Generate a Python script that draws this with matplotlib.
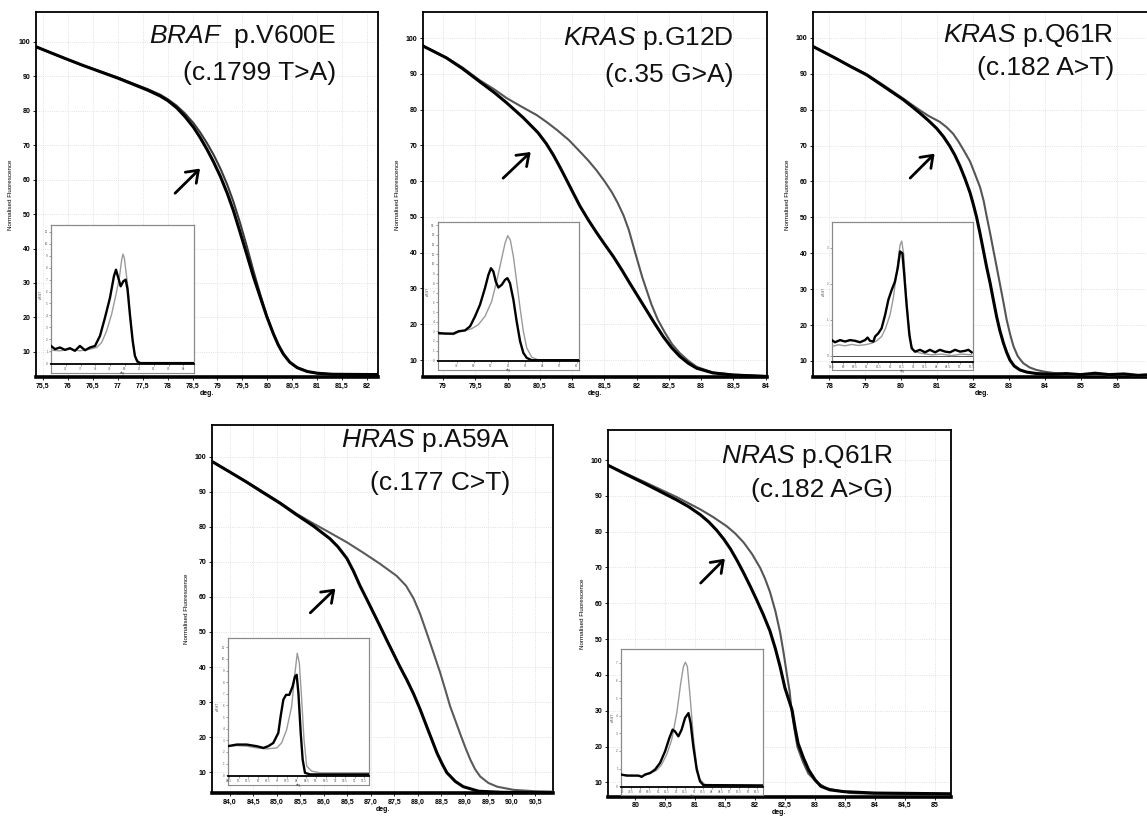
import matplotlib
matplotlib.use("Agg")
import matplotlib.pyplot as plt
from matplotlib.patches import FancyArrowPatch
import numpy as np

plt.rcParams['font.family'] = ['Liberation Sans', 'DejaVu Sans']
plt.rcParams['mathtext.fontset'] = 'custom'
plt.rcParams['mathtext.it'] = 'Liberation Sans:italic'
plt.rcParams['mathtext.rm'] = 'Liberation Sans'

W, H = 1147, 817

# ---------------- data: main melting curves ----------------
# Panel 1: BRAF p.V600E
braf_x_black = [75.36, 75.6, 75.98, 76.3, 76.64, 77.0, 77.31, 77.6, 77.85, 78.0, 78.18, 78.35, 78.52,
                78.65, 78.79, 78.92, 79.06, 79.2, 79.32, 79.45, 79.59, 79.72, 79.86, 79.99, 80.12,
                80.22, 80.32, 80.45, 80.6, 80.8, 81.0, 81.3, 82.22]
braf_y_black = [98.6, 97.2, 95.0, 93.2, 91.4, 89.5, 87.7, 86.0, 84.3, 83.0, 80.9, 78.3, 75.2,
                72.3, 68.8, 65.2, 60.9, 55.9, 51.0, 44.9, 38.2, 31.9, 25.8, 20.2, 15.3,
                12.0, 9.4, 7.0, 5.4, 4.3, 3.8, 3.5, 3.4]
braf_x_grey = [75.36, 75.6, 75.98, 76.3, 76.64, 77.0, 77.31, 77.6, 77.85, 78.0, 78.18, 78.35, 78.52,
               78.65, 78.79, 78.92, 79.06, 79.2, 79.32, 79.45, 79.59, 79.72, 79.86, 79.99, 80.12,
               80.22, 80.32, 80.45, 80.6, 80.8, 81.0, 81.3, 82.22]
braf_y_grey = [98.6, 97.2, 95.0, 93.2, 91.5, 89.7, 87.9, 86.3, 84.7, 83.4, 81.5, 79.2, 76.4,
               73.8, 70.6, 67.3, 63.2, 58.4, 53.6, 47.6, 40.6, 33.6, 26.6, 20.5, 15.3,
               12.0, 9.4, 7.0, 5.4, 4.3, 3.8, 3.5, 3.4]

# Panel 2: KRAS p.G12D
g12d_x_black = [78.69, 79.05, 79.3, 79.57, 79.8, 79.98, 80.24, 80.47, 80.6, 80.71, 80.81, 80.91,
                81.02, 81.12, 81.25, 81.38, 81.51, 81.64, 81.77, 81.89, 82.02, 82.15, 82.28,
                82.41, 82.54, 82.67, 82.8, 82.93, 83.18, 83.5, 84.02]
g12d_y_black = [97.8, 94.5, 91.5, 87.8, 84.7, 82.0, 77.8, 73.6, 70.5, 67.3, 64.0, 60.5,
                56.6, 53.1, 49.2, 45.6, 42.2, 38.9, 35.2, 31.6, 27.8, 24.0, 20.2,
                16.6, 13.5, 11.0, 9.1, 7.7, 6.4, 5.8, 5.4]
g12d_x_grey = [78.69, 79.05, 79.3, 79.57, 79.8, 79.98, 80.2, 80.45, 80.6, 80.76, 80.95, 81.12,
               81.25, 81.38, 81.51, 81.62, 81.71, 81.8, 81.88, 81.97, 82.09, 82.23, 82.33,
               82.44, 82.55, 82.67, 82.8, 82.93, 83.18, 83.5, 84.02]
g12d_y_grey = [97.8, 94.6, 91.8, 88.2, 85.6, 83.3, 81.0, 78.5, 76.6, 74.4, 71.5, 68.3,
               65.8, 63.0, 59.8, 56.8, 53.8, 50.3, 46.3, 40.5, 33.0, 25.5, 21.2,
               17.6, 14.4, 11.9, 9.8, 8.1, 6.5, 5.9, 5.5]

# Panel 3: KRAS p.Q61R
q61r_x_black = [77.55, 77.8, 78.2, 78.6, 79.04, 79.5, 80.06, 80.3, 80.53, 80.76, 80.99, 81.18,
                81.36, 81.5, 81.64, 81.78, 81.92, 82.01, 82.1, 82.2, 82.29, 82.38, 82.48, 82.57,
                82.66, 82.75, 82.85, 82.94, 83.03, 83.15, 83.31, 83.5, 83.77, 84.2, 84.6, 85.0,
                85.4, 85.8, 86.2, 86.6, 86.93]
q61r_y_black = [97.6, 96.3, 94.2, 92.0, 89.7, 86.6, 82.8, 80.9, 79.0, 77.0, 74.8, 72.5,
                69.8, 67.3, 64.3, 60.8, 56.9, 53.7, 50.2, 45.5, 40.9, 36.3, 31.7, 27.0,
                22.4, 18.5, 15.0, 12.4, 10.3, 8.6, 7.5, 6.9, 6.5, 6.3, 6.5, 6.2,
                6.6, 6.2, 6.4, 6.0, 6.2]
q61r_x_grey = [77.55, 77.8, 78.2, 78.6, 79.04, 79.5, 80.06, 80.3, 80.53, 80.76, 81.08, 81.27,
               81.45, 81.6, 81.75, 81.92, 82.05, 82.2, 82.3, 82.38, 82.48, 82.57, 82.66, 82.75,
               82.85, 82.94, 83.04, 83.13, 83.25, 83.4, 83.58, 83.77, 84.0, 84.3, 84.6, 85.0,
               85.4, 85.8, 86.2, 86.6, 86.93]
q61r_y_grey = [97.6, 96.3, 94.2, 92.1, 89.9, 86.9, 83.1, 81.4, 79.8, 78.3, 76.6, 75.1,
               73.3, 71.1, 68.6, 65.6, 62.3, 58.4, 54.6, 50.5, 45.6, 40.9, 36.3, 31.6,
               26.4, 21.5, 17.3, 14.1, 11.3, 9.4, 8.2, 7.5, 7.0, 6.6, 6.4, 6.1,
               6.3, 6.0, 6.2, 5.9, 6.0]

# Panel 4: HRAS p.A59A
a59a_x_black = [83.62, 84.0, 84.36, 84.7, 85.07, 85.4, 85.78, 86.13, 86.3, 86.49, 86.63, 86.77,
                86.92, 87.06, 87.2, 87.34, 87.48, 87.62, 87.77, 87.91, 88.05, 88.19, 88.3,
                88.41, 88.52, 88.62, 88.8, 88.97, 89.3, 89.8, 90.88]
a59a_y_black = [98.6, 95.6, 92.7, 89.8, 86.7, 83.6, 80.2, 76.6, 74.3, 71.0, 67.4, 63.2,
                59.2, 55.4, 51.6, 47.7, 43.9, 40.1, 36.3, 32.4, 28.0, 23.1, 19.3,
                15.5, 12.4, 9.9, 7.4, 5.9, 4.6, 4.3, 4.2]
a59a_x_grey = [83.62, 84.0, 84.36, 84.7, 85.07, 85.42, 85.78, 86.13, 86.5, 86.84, 87.2, 87.55, 87.75,
               87.91, 88.05, 88.19, 88.34, 88.48, 88.59, 88.69, 88.8, 88.9, 89.01, 89.12, 89.22,
               89.33, 89.5, 89.69, 90.04, 90.5, 90.88]
a59a_y_grey = [98.6, 95.6, 92.8, 90.0, 86.9, 83.7, 80.9, 78.3, 75.5, 72.6, 69.4, 66.0, 63.2,
               59.6, 55.2, 49.8, 43.9, 38.3, 33.4, 28.8, 24.8, 21.1, 17.2, 13.6, 10.9,
               8.8, 7.0, 5.9, 5.0, 4.6, 4.5]

# Panel 5: NRAS p.Q61R
nras_x_black = [79.54, 79.8, 80.14, 80.42, 80.7, 80.9, 81.09, 81.23, 81.36, 81.48, 81.59, 81.7,
                81.81, 81.92, 82.03, 82.14, 82.25, 82.34, 82.42, 82.5, 82.62, 82.67, 82.72,
                82.81, 82.9, 83.0, 83.1, 83.25, 83.48, 84.0, 85.27]
nras_y_black = [98.6, 96.4, 93.6, 91.2, 88.8, 86.9, 84.7, 82.7, 80.4, 77.9, 75.2, 72.0,
                68.5, 64.8, 60.9, 56.8, 52.3, 47.4, 42.3, 36.4, 30.2, 25.2, 20.9,
                16.8, 13.4, 10.8, 8.9, 7.9, 7.4, 7.0, 6.8]
nras_x_grey = [79.54, 79.8, 80.14, 80.42, 80.7, 81.09, 81.3, 81.53, 81.67, 81.81, 81.95, 82.09,
               82.17, 82.25, 82.34, 82.42, 82.48, 82.53, 82.58, 82.61, 82.66, 82.71, 82.8,
               82.89, 83.03, 83.2, 83.6, 84.0, 85.27]
nras_y_grey = [98.6, 96.6, 94.0, 91.8, 89.6, 86.2, 84.1, 81.5, 79.5, 77.0, 73.8, 69.8,
               66.8, 63.2, 57.9, 51.9, 46.0, 40.5, 35.3, 30.2, 24.8, 19.9, 15.8,
               12.5, 10.0, 8.3, 7.0, 6.8, 6.7]

# ---------------- data: inset derivative curves (-dF/dT) ----------------
i1_x_black = [74.98, 75.25, 75.59, 75.93, 76.27, 76.61, 76.95, 77.30, 77.64, 77.98, 78.32, 78.66,
              79.00, 79.27, 79.41, 79.57, 79.73, 79.91, 80.07, 80.20, 80.36, 80.55, 80.70, 80.86,
              81.05, 84.73]
i1_y_black = [1.44, 1.17, 1.31, 1.11, 1.25, 1.03, 1.44, 1.08, 1.31, 1.44, 2.28, 3.81,
              5.47, 7.28, 7.83, 7.14, 6.44, 6.86, 7.00, 6.17, 4.08, 1.86, 0.61, 0.14,
              0.0, 0.0]
i1_x_grey = [74.98, 75.59, 76.27, 76.95, 77.64, 78.09, 78.43, 78.77, 79.11, 79.41, 79.64, 79.80,
             79.89, 79.98, 80.09, 80.23, 80.36, 80.55, 80.70, 80.93, 81.16, 84.73]
i1_y_grey = [1.08, 1.03, 1.17, 1.03, 1.17, 1.31, 1.72, 2.69, 4.08, 5.75, 7.14, 8.67,
             9.14, 8.81, 7.69, 6.31, 4.08, 1.86, 0.61, 0.14, 0.0, 0.0]

i2_x_black = [77.89, 78.32, 78.81, 79.10, 79.49, 79.78, 80.07, 80.36, 80.65, 80.85, 81.00, 81.14,
              81.28, 81.43, 81.63, 81.82, 81.96, 82.11, 82.31, 82.50, 82.70, 82.89, 83.09, 83.38,
              86.14]
i2_y_black = [2.83, 2.76, 2.76, 3.00, 3.10, 3.52, 4.55, 5.76, 7.48, 8.86, 9.55, 9.21,
              8.17, 7.55, 7.83, 8.34, 8.52, 8.00, 6.28, 4.03, 1.97, 0.76, 0.24, 0.0,
              0.0]
i2_x_grey = [77.89, 78.32, 78.81, 79.10, 79.49, 79.88, 80.26, 80.65, 81.04, 81.33, 81.63, 81.82,
             81.98, 82.13, 82.31, 82.50, 82.70, 82.89, 83.09, 83.38, 83.77, 86.14]
i2_y_grey = [2.66, 2.83, 2.66, 2.93, 3.07, 3.28, 3.69, 4.55, 6.10, 8.17, 10.59, 12.14,
             12.93, 12.48, 10.76, 8.17, 5.41, 3.00, 1.28, 0.31, 0.03, 0.0]

i3_x_black = [79.5, 79.64, 79.86, 80.07, 80.29, 80.5, 80.71, 80.93, 81.04, 81.14, 81.29, 81.36,
              81.5, 81.64, 81.79, 81.93, 82.07, 82.21, 82.33, 82.43, 82.53, 82.61, 82.71, 82.83,
              82.93, 83.07, 83.29, 83.5, 83.71, 83.93, 84.14, 84.36, 84.57, 84.79, 85.0, 85.21,
              85.36, 85.5]
i3_y_black = [0.44, 0.38, 0.44, 0.40, 0.44, 0.42, 0.38, 0.44, 0.51, 0.42, 0.40, 0.54,
              0.63, 0.77, 1.14, 1.56, 1.83, 2.06, 2.44, 2.90, 2.85, 2.25, 1.42, 0.58,
              0.21, 0.12, 0.17, 0.10, 0.17, 0.10, 0.17, 0.12, 0.10, 0.17, 0.12, 0.14,
              0.17, 0.10]
i3_x_grey = [79.5, 79.79, 80.07, 80.36, 80.64, 80.93, 81.21, 81.43, 81.64, 81.81, 82.0, 82.14,
             82.29, 82.43, 82.5, 82.59, 82.67, 82.79, 82.9, 83.04, 83.36, 83.79, 84.21, 84.64,
             85.07, 85.5]
i3_y_grey = [0.26, 0.31, 0.28, 0.32, 0.29, 0.31, 0.35, 0.42, 0.54, 0.77, 1.14, 1.60,
             2.34, 3.08, 3.19, 2.81, 1.88, 0.95, 0.31, 0.12, 0.07, 0.03, 0.05, 0.01,
             0.05, 0.03]

i4_x_black = [84.43, 84.9, 85.41, 85.93, 86.28, 86.53, 86.79, 87.05, 87.17, 87.31, 87.45, 87.62,
              87.79, 87.91, 88.0, 88.09, 88.21, 88.31, 88.43, 88.69, 91.76]
i4_y_black = [2.49, 2.63, 2.63, 2.49, 2.34, 2.49, 2.77, 3.63, 5.06, 6.49, 6.91, 6.91,
              7.63, 8.49, 8.63, 7.06, 3.63, 1.34, 0.20, 0.06, 0.06]
i4_x_grey = [84.43, 84.9, 85.41, 85.93, 86.45, 86.97, 87.22, 87.48, 87.74, 87.91, 88.03, 88.14,
             88.26, 88.38, 88.52, 88.78, 89.21, 91.76]
i4_y_grey = [2.49, 2.54, 2.49, 2.34, 2.26, 2.34, 2.77, 3.91, 5.91, 8.77, 10.49, 9.63,
             6.49, 3.06, 0.77, 0.34, 0.20, 0.20]

i5_x_black = [78.94, 79.26, 79.63, 79.91, 80.09, 80.28, 80.56, 80.83, 81.11, 81.39, 81.63, 81.81,
              81.94, 82.13, 82.31, 82.5, 82.69, 82.81, 82.96, 83.15, 83.33, 83.52, 86.85]
i5_y_black = [0.66, 0.60, 0.60, 0.60, 0.53, 0.66, 0.75, 0.94, 1.32, 1.98, 2.74, 3.21,
              3.11, 2.83, 3.21, 3.87, 4.15, 3.58, 2.26, 0.94, 0.28, 0.06, 0.04]
i5_x_grey = [78.94, 79.63, 80.09, 80.56, 80.93, 81.2, 81.48, 81.76, 82.04, 82.26, 82.41, 82.52,
             82.63, 82.78, 82.96, 83.15, 83.33, 83.61, 86.85]
i5_y_grey = [0.66, 0.60, 0.57, 0.72, 0.91, 1.23, 1.79, 2.64, 4.15, 5.85, 6.79, 7.04,
             6.79, 5.09, 2.83, 1.13, 0.38, 0.09, 0.04]

# ---------------- labels ----------------
genes = ['BRAF', 'KRAS', 'KRAS', 'HRAS', 'NRAS']
protein = ['  p.V600E', ' p.G12D', ' p.Q61R', ' p.A59A', ' p.Q61R']
cdna = ['(c.1799 T>A)', '(c.35 G>A)', '(c.182 A>T)', '(c.177 C>T)', '(c.182 A>G)']
y_ticks = [10, 20, 30, 40, 50, 60, 70, 80, 90, 100]
x_ticks_1 = [75.5, 76, 76.5, 77, 77.5, 78, 78.5, 79, 79.5, 80, 80.5, 81, 81.5, 82]
x_ticks_2 = [79, 79.5, 80, 80.5, 81, 81.5, 82, 82.5, 83, 83.5, 84]
x_ticks_3 = [78, 79, 80, 81, 82, 83, 84, 85, 86]
x_ticks_4 = [84.0, 84.5, 85.0, 85.5, 86.0, 86.5, 87.0, 87.5, 88.0, 88.5, 89.0, 89.5, 90.0, 90.5]
x_ticks_5 = [80, 80.5, 81, 81.5, 82, 82.5, 83, 83.5, 84, 84.5, 85]

# ---------------- layout (pixels) ----------------
def fpos(l, r, t, b):
    return [l / W, 1 - b / H, (r - l) / W, (b - t) / H]

panels = [
    dict(pos=(36, 378, 12, 377), xlim=(75.36, 82.22), ylim=(2.7, 108.7), xt=x_ticks_1, keep0=False,
         bx=braf_x_black, by=braf_y_black, gx=braf_x_grey, gy=braf_y_grey, grey='#3a3a3a',
         arrow=((78.11, 55.5), (78.69, 63.8)), tx=0.877, ty1=0.915, ty2=0.814,
         inset=(51, 194, 225, 363.7, 373), ixl=(74.98, 84.73), iyl=(-0.05, 11.58),
         ixt=list(range(76, 85)), iyt=list(range(0, 12)),
         ibx=i1_x_black, iby=i1_y_black, igx=i1_x_grey, igy=i1_y_grey, zero=False),
    dict(pos=(423, 767, 12, 377), xlim=(78.69, 84.02), ylim=(5.25, 107.3), xt=x_ticks_2, keep0=False,
         bx=g12d_x_black, by=g12d_y_black, gx=g12d_x_grey, gy=g12d_y_grey, grey='#555555',
         arrow=((79.9, 60.3), (80.39, 68.7)), tx=0.904, ty1=0.910, ty2=0.808,
         inset=(437.7, 579, 221.7, 360.7, 370), ixl=(77.89, 86.14), iyl=(-0.05, 14.38),
         ixt=list(range(79, 87)), iyt=list(range(0, 15)),
         ibx=i2_x_black, iby=i2_y_black, igx=i2_x_grey, igy=i2_y_grey, zero=False),
    dict(pos=(813, 1150, 12, 377), xlim=(77.55, 86.93), ylim=(5.54, 107.2), xt=x_ticks_3, keep0=False,
         bx=q61r_x_black, by=q61r_y_black, gx=q61r_x_grey, gy=q61r_y_grey, grey='#555555',
         arrow=((80.2, 60.4), (80.99, 68.3)), tx=0.893, ty1=0.918, ty2=0.827,
         inset=(831.7, 973.3, 222.3, 361.7, 370), ixl=(79.5, 85.57), iyl=(-0.16, 3.71),
         ixt=[79.5 + 0.5 * k for k in range(13)], iyt=[0, 1, 2, 3],
         ibx=i3_x_black, iby=i3_y_black, igx=i3_x_grey, igy=i3_y_grey, zero=True),
    dict(pos=(212, 553, 425, 793), xlim=(83.62, 90.88), ylim=(4.1, 109), xt=x_ticks_4, keep0=True,
         bx=a59a_x_black, by=a59a_y_black, gx=a59a_x_grey, gy=a59a_y_grey, grey='#5a5a5a',
         arrow=((85.67, 54.9), (86.29, 62.9)), tx=0.874, ty1=0.940, ty2=0.823,
         inset=(227.7, 369.3, 637.7, 775.7, 785), ixl=(84.43, 91.76), iyl=(-0.05, 11.83),
         ixt=[84.5 + 0.5 * k for k in range(15)], iyt=list(range(0, 12)),
         ibx=i4_x_black, iby=i4_y_black, igx=i4_x_grey, igy=i4_y_grey, zero=False),
    dict(pos=(607.7, 950.7, 430, 796.7), xlim=(79.54, 85.27), ylim=(5.98, 108.4), xt=x_ticks_5, keep0=False,
         bx=nras_x_black, by=nras_y_black, gx=nras_x_grey, gy=nras_y_grey, grey='#555555',
         arrow=((81.06, 65.1), (81.53, 73.0)), tx=0.832, ty1=0.910, ty2=0.817,
         inset=(621, 763.3, 649, 786.7, 795), ixl=(78.94, 86.85), iyl=(-0.03, 7.79),
         ixt=[79 + 0.5 * k for k in range(16)], iyt=list(range(0, 8)),
         ibx=i5_x_black, iby=i5_y_black, igx=i5_x_grey, igy=i5_y_grey, zero=False),
]

def fmt(v, keep0):
    if keep0:
        s = f"{v:.1f}"
    else:
        s = f"{v:g}"
    return s.replace('.', ',')

fig = plt.figure(figsize=(W / 100, H / 100), dpi=100)
fig.patch.set_facecolor('white')

for i, p in enumerate(panels):
    ax = fig.add_axes(fpos(*p['pos']))
    ax.plot(p['gx'], p['gy'], color=p['grey'], lw=1.5, zorder=3, solid_capstyle='round',
            solid_joinstyle='round')
    ax.plot(p['bx'], p['by'], color='black', lw=2.2, zorder=4, solid_capstyle='round',
            solid_joinstyle='round')
    ax.set_xlim(*p['xlim'])
    ax.set_ylim(*p['ylim'])
    ax.set_xticks(p['xt'])
    ax.set_xticklabels([fmt(v, p['keep0']) for v in p['xt']], fontsize=5, fontweight='bold')
    ax.set_yticks(y_ticks)
    ax.set_yticklabels([str(v) for v in y_ticks], fontsize=5, fontweight='bold')
    ax.tick_params(length=2, width=0.6, pad=2, colors='black')
    ax.grid(True, color='#d8d8d8', linestyle=':', lw=0.6)
    for s in ['left', 'top', 'right']:
        ax.spines[s].set_linewidth(1.3)
    ax.spines['bottom'].set_linewidth(2.6)
    ax.set_ylabel('Normalised Fluorescence', fontsize=4.5, labelpad=4)
    ax.set_xlabel('deg.', fontsize=5, fontweight='bold', labelpad=0)
    # title text
    ax.text(p['tx'], p['ty1'], f"$\\mathit{{{genes[i]}}}$" + protein[i], transform=ax.transAxes,
            ha='right', va='baseline', fontsize=19, color='#111111', zorder=6)
    ax.text(p['tx'], p['ty2'], cdna[i], transform=ax.transAxes,
            ha='right', va='baseline', fontsize=19, color='#111111', zorder=6)
    # arrow
    (x0, y0), (x1, y1) = p['arrow']
    arr = FancyArrowPatch((x0, y0), (x1, y1), arrowstyle='->,head_length=0.55,head_width=0.4',
                          mutation_scale=14, lw=2.0, color='black', zorder=6)
    ax.add_patch(arr)

    # inset
    l, r, t, b, ob = p['inset']
    frame = fig.add_axes(fpos(l, r, t, ob))
    frame.set_xticks([])
    frame.set_yticks([])
    frame.set_facecolor('white')
    for s in frame.spines.values():
        s.set_color('#8a8a8a')
        s.set_linewidth(0.8)
    frame.set_zorder(5)
    ia = fig.add_axes(fpos(l, r, t, b))
    ia.set_zorder(6)
    ia.patch.set_alpha(0)
    ia.plot(p['igx'], p['igy'], color='#9a9a9a', lw=1.0, zorder=3)
    ia.plot(p['ibx'], p['iby'], color='black', lw=1.7, zorder=4)
    if p['zero']:
        ia.axhline(0, color='#333333', lw=0.6, zorder=2)
    ia.set_xlim(*p['ixl'])
    ia.set_ylim(*p['iyl'])
    ia.set_xticks(p['ixt'])
    ia.set_xticklabels([f"{v:g}" for v in p['ixt']], fontsize=2.2, color='#444444')
    ia.set_yticks(p['iyt'])
    ia.set_yticklabels([f"{v:g}" for v in p['iyt']], fontsize=2.2, color='#444444')
    ia.tick_params(length=1.2, width=0.4, pad=1, colors='#555555')
    ia.set_xlabel('deg', fontsize=2.2, labelpad=0.5, color='#444444')
    ia.set_ylabel('-dF/dT', fontsize=2.2, labelpad=1, color='#444444')
    for s in ['left', 'top', 'right']:
        ia.spines[s].set_color('#8a8a8a')
        ia.spines[s].set_linewidth(0.8)
    ia.spines['bottom'].set_color('black')
    ia.spines['bottom'].set_linewidth(1.3)

fig.savefig('out.png', dpi=100, facecolor='white')
